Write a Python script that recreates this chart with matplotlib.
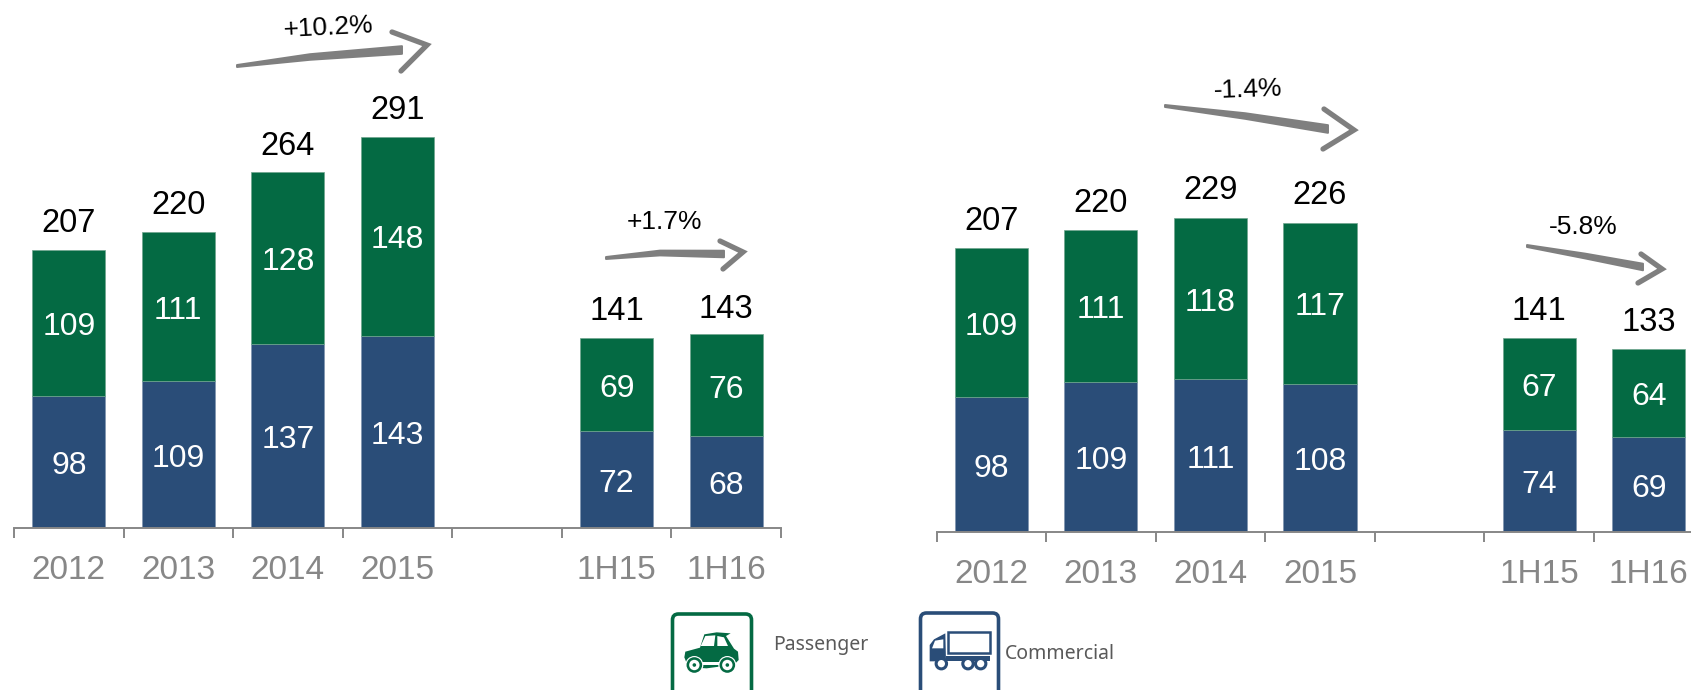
import matplotlib
matplotlib.use("Agg")
import matplotlib.pyplot as plt
from matplotlib.patches import Polygon, Circle, Rectangle, FancyBboxPatch

W, H = 1691, 690
GREEN = "#046A43"
NAVY = "#2A4D78"
GREY = "#878787"
ARROW = "#7F7F7F"

categories = ["2012", "2013", "2014", "2015", "", "1H15", "1H16"]

left_commercial = [98, 109, 137, 143, None, 72, 68]
left_passenger = [109, 111, 128, 148, None, 69, 76]
left_total = [207, 220, 264, 291, None, 141, 143]

right_commercial = [98, 109, 111, 108, None, 74, 69]
right_passenger = [109, 111, 118, 117, None, 67, 64]
right_total = [207, 220, 229, 226, None, 141, 133]

plt.rcParams["font.family"] = ["Liberation Sans", "DejaVu Sans"]


def draw_panel(fig, x0, base_y, px_per_unit, commercial, passenger, total):
  # axes starts at the first tick and runs 7 categories wide, the right one overshoots the figure
  ax = fig.add_axes([x0 / W, (H - base_y) / H, 767 / W, base_y / H])
  ax.set_xlim(-0.5, 6.5)
  ax.set_ylim(0, base_y / px_per_unit)
  ax.patch.set_visible(False)
  for i, name in enumerate(categories):
    if total[i] is None:
      continue
    ax.bar(i, commercial[i], width=0.667, color=NAVY, edgecolor="#7F95AF", linewidth=0.5)
    ax.bar(i, passenger[i], width=0.667, bottom=commercial[i], color=GREEN,
           edgecolor="#6FA58E", linewidth=0.5)
    ax.annotate(str(commercial[i]), (i, commercial[i] / 2), xytext=(0, -3),
                textcoords="offset points", color="white", fontsize=23, ha="center", va="center")
    ax.annotate(str(passenger[i]), (i, commercial[i] + passenger[i] / 2), xytext=(0, -3),
                textcoords="offset points", color="white", fontsize=23, ha="center", va="center")
    ax.annotate(str(total[i]), (i, total[i]), xytext=(0, 8), textcoords="offset points",
                fontsize=23.5, ha="center", va="bottom", color="black")
  for s in ["top", "left", "right"]:
    ax.spines[s].set_visible(False)
  ax.spines["bottom"].set_color(GREY)
  ax.spines["bottom"].set_linewidth(1.4)
  ax.set_yticks([])
  ax.set_xticks([x - 0.5 for x in range(8)], minor=False)
  ax.set_xticklabels([])
  ax.tick_params(axis="x", length=7, width=1.4, color=GREY)
  for i, name in enumerate(categories):
    ax.annotate(name, (i, 0), xytext=(0, -19.5), textcoords="offset points", ha="center",
                va="top", fontsize=24, color=GREY, annotation_clip=False)
  return ax


def stroke_arrow(ov, tail, mid, end, head_a, tip, head_b, thick):
  # hand drawn look: thin at the tail, fat near the head
  upper = [(tail[0], tail[1] - 1), (mid[0], mid[1] - thick * 0.4), (end[0], end[1] - thick * 0.55)]
  lower = [(end[0], end[1] + thick * 0.55), (mid[0], mid[1] + thick * 0.4), (tail[0], tail[1] + 1)]
  ov.add_patch(Polygon(upper + lower, closed=True, fc=ARROW, ec=ARROW, lw=1.4,
                       joinstyle="round"))
  ov.plot([head_a[0], tip[0], head_b[0]], [head_a[1], tip[1], head_b[1]], color=ARROW,
          lw=3.8, solid_joinstyle="miter", solid_capstyle="round")


def draw_car(ov):
  p = lambda x, y: (660 + x / 3, 600 + y / 3)
  body = [(73, 172), (76, 155), (120, 143), (133, 103), (170, 97), (212, 100), (198, 108),
          (222, 146), (234, 155), (236, 180), (222, 194), (140, 205), (85, 202)]
  ov.add_patch(Polygon([p(*q) for q in body], closed=True, fc=GREEN, ec="none"))
  ov.add_patch(Polygon([p(*q) for q in [(122, 138), (136, 108), (166, 106), (162, 138)]],
                       closed=True, fc="white", ec="none"))
  ov.add_patch(Polygon([p(*q) for q in [(172, 108), (192, 112), (204, 138), (172, 138)]],
                       closed=True, fc="white", ec="none"))
  ov.add_patch(Rectangle(p(125, 186), 55 / 3, 3, fc="white", ec="none"))
  for cx in (103, 202):
    c = p(cx, 195)
    ov.add_patch(Circle(c, 9, fc="white", ec="none"))
    ov.add_patch(Circle(c, 7.8, fc=GREEN, ec="none"))
    ov.add_patch(Circle(c, 5.2, fc="white", ec="none"))
    ov.add_patch(Circle(c, 1.8, fc=GREEN, ec="none"))


def draw_truck(ov):
  p = lambda x, y: (910 + x / 3, 600 + y / 3)
  ov.add_patch(Rectangle(p(114, 95), 126 / 3, 64 / 3, fc="white", ec=NAVY, lw=1.8))
  cab = [(59, 184), (59, 135), (72, 118), (106, 100), (108, 184)]
  ov.add_patch(Polygon([p(*q) for q in cab], closed=True, fc=NAVY, ec="none"))
  ov.add_patch(Polygon([p(*q) for q in [(66, 145), (75, 122), (100, 118), (100, 145)]],
                       closed=True, fc="white", ec="none"))
  ov.add_patch(Rectangle(p(108, 168), 132 / 3, 16 / 3, fc=NAVY, ec="none"))
  for cx in (94, 174, 212):
    ov.add_patch(Circle(p(cx, 191), 5.2, fc="white", ec=NAVY, lw=2.2))


fig = plt.figure(figsize=(W / 100, H / 100), dpi=100)
fig.patch.set_facecolor("white")

draw_panel(fig, 14, 527.7, 1.343, left_commercial, left_passenger, left_total)
draw_panel(fig, 936.5, 531.7, 1.372, right_commercial, right_passenger, right_total)

# overlay in pixel coords for the arrows and the legend icons
ov = fig.add_axes([0, 0, 1, 1], zorder=5)
ov.set_xlim(0, W)
ov.set_ylim(H, 0)
ov.axis("off")

stroke_arrow(ov, (237, 66), (310, 57), (402, 50), (392, 32), (427, 45), (401, 71), 7)
stroke_arrow(ov, (606, 258), (660, 253), (724, 254), (720, 241), (743, 252), (723, 269), 6)
stroke_arrow(ov, (1165, 106), (1245, 116), (1328, 129), (1324, 109), (1354, 130), (1323, 149), 7)
stroke_arrow(ov, (1527, 246), (1585, 256), (1643, 267), (1641, 254), (1662, 269), (1638, 283), 6)

growth = [("+10.2%", 328, 28, 3), ("+1.7%", 664, 222, 0), ("-1.4%", 1248, 90, 2),
          ("-5.8%", 1583, 227, 0)]
for label, x, y, rot in growth:
  ov.text(x, y, label, fontsize=19, ha="center", va="center", rotation=rot, color="black")

ov.add_patch(FancyBboxPatch((672.5, 614), 79, 90, boxstyle="round,pad=0,rounding_size=6",
                            fc="white", ec=GREEN, lw=2.6))
ov.add_patch(FancyBboxPatch((920.5, 613), 78, 90, boxstyle="round,pad=0,rounding_size=6",
                            fc="white", ec=NAVY, lw=2.6))
draw_car(ov)
draw_truck(ov)
ov.text(773, 645, "Passenger", fontsize=14, family=["Noto Sans", "DejaVu Sans"],
        color="#595959", ha="left", va="center")
ov.text(1005, 654, "Commercial", fontsize=14, family=["Noto Sans", "DejaVu Sans"],
        color="#595959", ha="left", va="center")

fig.savefig("out.png", dpi=100)
